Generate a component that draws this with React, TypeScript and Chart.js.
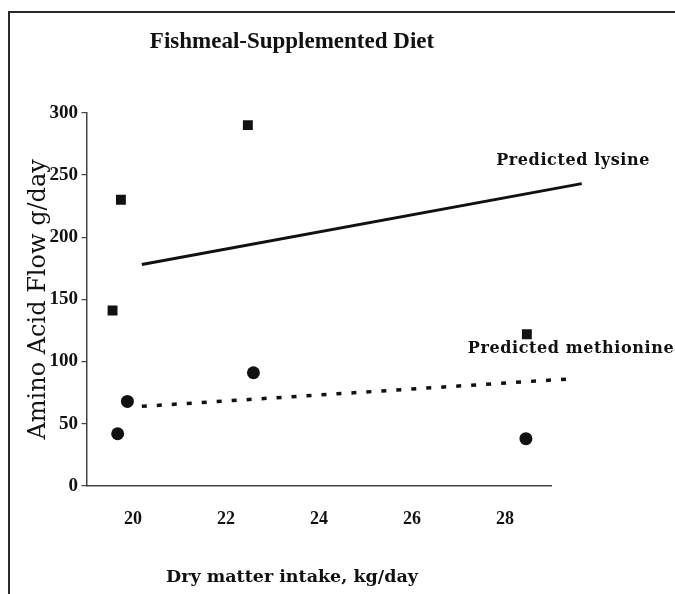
import React, { useEffect, useRef } from "react";
import { Chart, registerables } from "chart.js";

Chart.register(...registerables);

const TITLE = "Fishmeal-Supplemented Diet";
const X_TITLE = "Dry matter intake, kg/day";
const Y_TITLE = "Amino Acid Flow g/day";
const X_TICKS = [20, 22, 24, 26, 28];
const Y_MIN = 0;
const Y_MAX = 300;
const Y_STEP = 50;

// observed lysine flow (squares)
const lysineIntake = [19.56, 19.74, 22.47, 28.47];
const lysineFlow = [141, 230, 290, 122];
// observed methionine flow (circles)
const methIntake = [19.67, 19.88, 22.59, 28.45];
const methFlow = [42, 68, 91, 38];
// predicted lines
const predLysineIntake = [20.19, 29.65];
const predLysineFlow = [178, 243];
const predMethIntake = [20.19, 29.36];
const predMethFlow = [64, 86];

const LABELS = ["Predicted lysine", "Predicted methionine"];
const LABEL_X = [27.81, 27.2];
const LABEL_Y = [261.5, 110.4];

const zip = (xs: number[], ys: number[]) => xs.map((x, i) => ({ x, y: ys[i] }));

const framePlugin = {
  id: "frame",
  beforeDraw(chart: any) {
    const ctx = chart.ctx;
    ctx.save();
    ctx.fillStyle = "#ffffff";
    ctx.fillRect(0, 0, chart.width, chart.height);
    ctx.strokeStyle = "#2a2a2a";
    ctx.lineWidth = 2;
    ctx.beginPath();
    ctx.moveTo(9, chart.height);
    ctx.lineTo(9, 12);
    ctx.lineTo(chart.width, 12);
    ctx.stroke();
    ctx.restore();
  },
};

const labelPlugin = {
  id: "lineLabels",
  afterDatasetsDraw(chart: any) {
    const { ctx, scales } = chart;
    ctx.save();
    ctx.font = 'bold 16px "DejaVu Serif"';
    ctx.fillStyle = "#111111";
    ctx.textBaseline = "middle";
    ctx.textAlign = "left";
    (ctx as any).letterSpacing = "0.6px";
    LABELS.forEach((t, i) => {
      ctx.fillText(t, scales.x.getPixelForValue(LABEL_X[i]), scales.y.getPixelForValue(LABEL_Y[i]));
    });
    ctx.restore();
  },
};

export default function App() {
  const ref = useRef<HTMLCanvasElement | null>(null);
  useEffect(() => {
    document.body.style.margin = "0";
    if (!ref.current) return;
    const chart = new Chart(ref.current, {
      type: "scatter",
      data: {
        datasets: [
          {
            label: "Lysine",
            data: zip(lysineIntake, lysineFlow),
            pointStyle: "rect",
            pointRadius: 7,
            backgroundColor: "#111111",
            borderColor: "#111111",
            borderWidth: 0,
          },
          {
            label: "Methionine",
            data: zip(methIntake, methFlow),
            pointStyle: "circle",
            pointRadius: 6.5,
            backgroundColor: "#111111",
            borderColor: "#111111",
            borderWidth: 0,
          },
          {
            label: "Predicted lysine",
            data: zip(predLysineIntake, predLysineFlow),
            showLine: true,
            pointRadius: 0,
            borderColor: "#111111",
            borderWidth: 3,
            clip: false as any,
          },
          {
            label: "Predicted methionine",
            data: zip(predMethIntake, predMethFlow),
            showLine: true,
            pointRadius: 0,
            borderColor: "#111111",
            borderWidth: 3.5,
            borderDash: [5, 10],
            borderCapStyle: "butt",
            clip: false as any,
          },
        ],
      },
      options: {
        animation: false,
        responsive: false,
        devicePixelRatio: 1,
        layout: { padding: { left: 32.5, right: 123.5, top: 0, bottom: 0 } },
        plugins: {
          legend: { display: false },
          tooltip: { enabled: false },
          title: {
            display: true,
            text: TITLE,
            color: "#111111",
            font: { family: "Liberation Serif", size: 23, weight: "bold", lineHeight: 1.2 },
            padding: { top: 28.2, bottom: 56.9 },
          },
          subtitle: {
            display: true,
            position: "bottom",
            text: X_TITLE,
            color: "#111111",
            font: { family: "DejaVu Serif", size: 17.5, weight: "bold", lineHeight: 1.2 },
            padding: { top: 0, bottom: 6.5 },
          },
        },
        scales: {
          x: {
            type: "linear",
            min: 19,
            max: 29,
            afterBuildTicks: (s: any) => {
              s.ticks = X_TICKS.map((v) => ({ value: v }));
            },
            afterFit: (s: any) => {
              s.height = 80.5;
            },
            grid: { display: false, drawTicks: false },
            border: { display: true, color: "#444444", width: 1.5 },
            ticks: {
              padding: 23,
              color: "#111111",
              font: { family: "Liberation Serif", size: 18, weight: "bold" },
            },
            title: { display: false },
          },
          y: {
            type: "linear",
            min: Y_MIN,
            max: Y_MAX,
            afterFit: (s: any) => {
              s.width = 54;
            },
            grid: {
              display: true,
              drawOnChartArea: false,
              drawTicks: true,
              tickLength: 5,
              color: "#444444",
              lineWidth: 1.2,
            },
            border: { display: true, color: "#444444", width: 1.5 },
            ticks: {
              stepSize: Y_STEP,
              padding: 3.5,
              color: "#111111",
              font: { family: "Liberation Serif", size: 19, weight: "bold" },
            },
            title: {
              display: true,
              text: Y_TITLE,
              color: "#111111",
              font: { family: "DejaVu Serif", size: 24, weight: "normal", lineHeight: 1 },
              padding: { top: -6, bottom: 0 },
            },
          },
        },
      },
      plugins: [framePlugin, labelPlugin],
    });
    return () => chart.destroy();
  }, []);
  return <canvas ref={ref} width={675} height={594} style={{ display: "block" }} />;
}
